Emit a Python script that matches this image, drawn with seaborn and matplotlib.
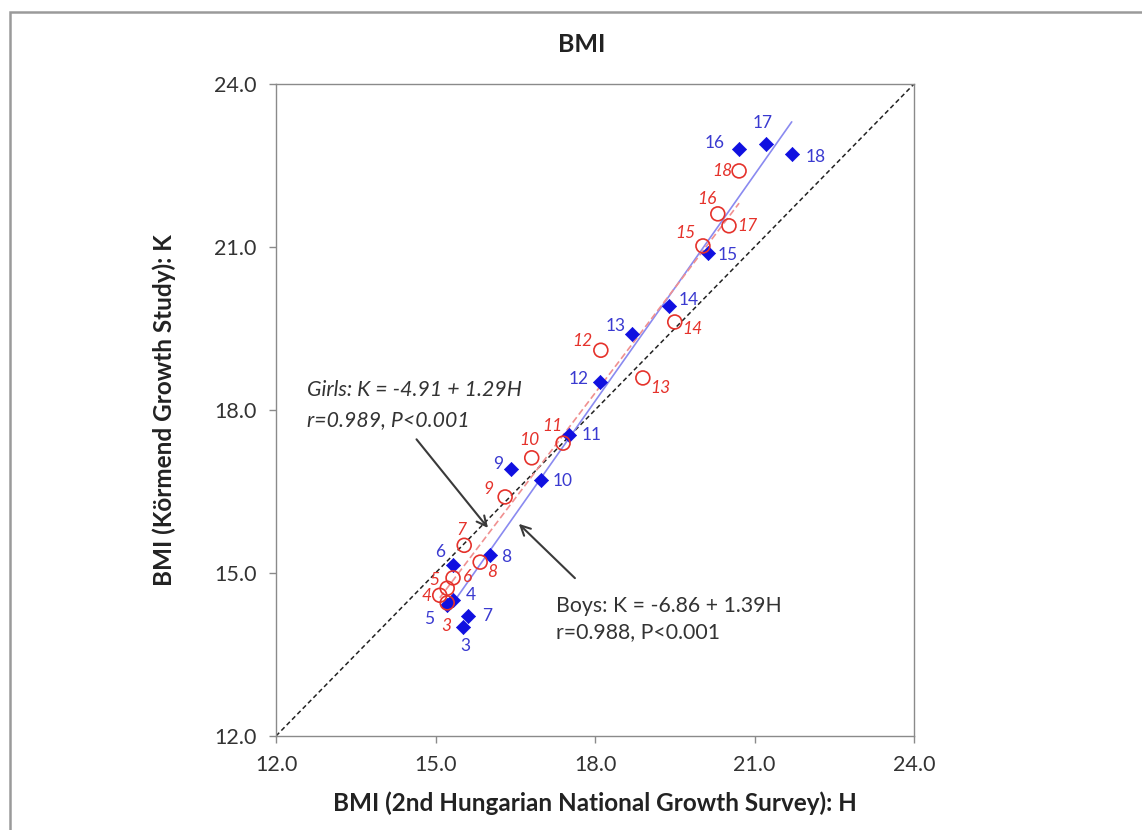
import numpy as np
import pandas as pd
import seaborn as sns
import matplotlib.pyplot as plt
from matplotlib.patches import Rectangle

# BMI by age: H = 2nd Hungarian National Growth Survey, K = Kormend Growth Study
ages = list(range(3, 19))
boys_h = [15.52, 15.33, 15.22, 15.33, 15.61, 16.02, 16.42, 16.98, 17.51, 18.09,
          18.70, 19.39, 20.12, 20.71, 21.22, 21.70]
boys_k = [14.01, 14.50, 14.41, 15.15, 14.21, 15.33, 16.91, 16.71, 17.54, 18.52,
          19.40, 19.91, 20.89, 22.80, 22.90, 22.71]
girls_h = [15.22, 15.08, 15.22, 15.33, 15.54, 15.84, 16.31, 16.81, 17.40, 18.11,
           18.90, 19.50, 20.03, 20.31, 20.52, 20.71]
girls_k = [14.45, 14.59, 14.72, 14.91, 15.51, 15.20, 16.40, 17.12, 17.39, 19.10,
           18.59, 19.62, 21.02, 21.61, 21.39, 22.40]

boys_fit = (-6.86, 1.39)
girls_fit = (-4.91, 1.29)
ticks = [12.0, 15.0, 18.0, 21.0, 24.0]

boys = pd.DataFrame({"age": ages, "H": boys_h, "K": boys_k})
girls = pd.DataFrame({"age": ages, "H": girls_h, "K": girls_k})

# label offsets in pixels (dx, dy)
boy_off = {3: (2, -19), 4: (18, 5), 5: (-18, -14), 6: (-13, 13), 7: (19, 0),
           8: (16, -2), 9: (-13, 5), 10: (22, -1), 11: (23, 0), 12: (-21, 3),
           13: (-17, 8), 14: (20, 6), 15: (20, -2), 16: (-24, 6), 17: (-4, 21),
           18: (24, -3)}
girl_off = {3: (-1, -23), 4: (-13, -1), 5: (-13, 8), 6: (15, 1), 7: (-3, 15),
            8: (12, -10), 9: (-17, 8), 10: (-2, 18), 11: (-11, 17), 12: (-18, 9),
            13: (18, -10), 14: (18, -7), 15: (-18, 13), 16: (-11, 15), 17: (18, 0),
            18: (-17, 0)}

sns.set_style("white")
plt.rcParams["font.family"] = ["Lato", "DejaVu Sans"]

BLUE = "#1010e0"
BLUE_TXT = "#3a3ad0"
RED = "#e5322b"
GREY = "#8a8a8a"
TXT = "#333333"

fig = plt.figure(figsize=(11.42, 8.30), dpi=100)
ax = fig.add_axes([276 / 1142, 1 - 736 / 830, 638 / 1142, 652 / 830])

# outer chart frame
fig.patches.append(Rectangle((10 / 1142, -0.2), 1.2, 1.2 - 12 / 830, transform=fig.transFigure,
                             fill=False, edgecolor="#9a9a9a", lw=1.8))

# line of identity
sns.lineplot(x=[ticks[0], ticks[-1]], y=[ticks[0], ticks[-1]], ax=ax, color="#222222",
             lw=1.1, linestyle=(0, (3, 2)))

# fitted lines
bx = np.array([min(boys_h), max(boys_h)])
sns.lineplot(x=bx, y=boys_fit[0] + boys_fit[1] * bx, ax=ax, color="#8a8af0", lw=1.2)
gx = np.array([min(girls_h), max(girls_h)])
sns.lineplot(x=gx, y=girls_fit[0] + girls_fit[1] * gx, ax=ax, color="#f09090", lw=1.2,
             linestyle=(0, (4, 2)))

sns.scatterplot(data=boys, x="H", y="K", ax=ax, marker="D", s=52, color=BLUE,
                edgecolor=BLUE, linewidth=0.5, zorder=3)
sns.scatterplot(data=girls, x="H", y="K", ax=ax, marker="o", s=100, facecolor="none",
                edgecolor=RED, linewidth=1.2, zorder=4)

for a, h, k in zip(ages, boys_h, boys_k):
    ax.annotate(str(a), (h, k), xytext=boy_off[a], textcoords="offset pixels",
                ha="center", va="center", fontsize=12.5, color=BLUE_TXT)
for a, h, k in zip(ages, girls_h, girls_k):
    ax.annotate(str(a), (h, k), xytext=girl_off[a], textcoords="offset pixels",
                ha="center", va="center", fontsize=12.5, color=RED, style="italic")

arrow = dict(arrowstyle="->,head_length=0.7,head_width=0.35", color="#3a3a3a", lw=1.5)
ax.text(12.58, 18.37, "Girls: K = -4.91 + 1.29H", style="italic", fontsize=15.3,
        color=TXT, va="center")
ax.text(12.58, 17.82, "r=0.989, P<0.001", style="italic", fontsize=15.3,
        color=TXT, va="center")
ax.annotate("", xy=(16.02, 15.79), xytext=(14.61, 17.50), arrowprops=arrow)
ax.text(17.27, 14.39, "Boys: K = -6.86 + 1.39H", fontsize=15.3, color=TXT, va="center")
ax.text(17.27, 13.91, "r=0.988, P<0.001", fontsize=15.3, color=TXT, va="center")
ax.annotate("", xy=(16.53, 15.94), xytext=(17.66, 14.87), arrowprops=arrow)

ax.set_xlim(ticks[0], ticks[-1])
ax.set_ylim(ticks[0], ticks[-1])
ax.set_xticks(ticks)
ax.set_yticks(ticks)
ax.set_xticklabels([f"{t:.1f}" for t in ticks])
ax.set_yticklabels([f"{t:.1f}" for t in ticks])
ax.tick_params(axis="both", direction="out", length=5, width=1, color=GREY,
               labelsize=15.5, labelcolor=TXT, pad=9)
ax.tick_params(axis="x", bottom=True)
ax.tick_params(axis="y", left=True)
for sp in ax.spines.values():
    sp.set_color(GREY)
    sp.set_linewidth(1)

ax.set_xlabel("BMI (2nd Hungarian National Growth Survey): H", fontsize=17.5,
              fontweight="bold", color="#222222")
ax.set_ylabel("BMI (Körmend Growth Study): K", fontsize=17.5, fontweight="bold",
              color="#222222")
ax.xaxis.set_label_coords(0.5, -0.103)
ax.xaxis.label.set_va("center")
ax.yaxis.set_label_coords(-0.175, 0.5)
ax.yaxis.label.set_va("center")

fig.text(582 / 1142, 1 - 44 / 830, "BMI", ha="center", va="center", fontsize=18,
         fontweight="bold", color="#222222")

fig.savefig("out.png", dpi=100)
